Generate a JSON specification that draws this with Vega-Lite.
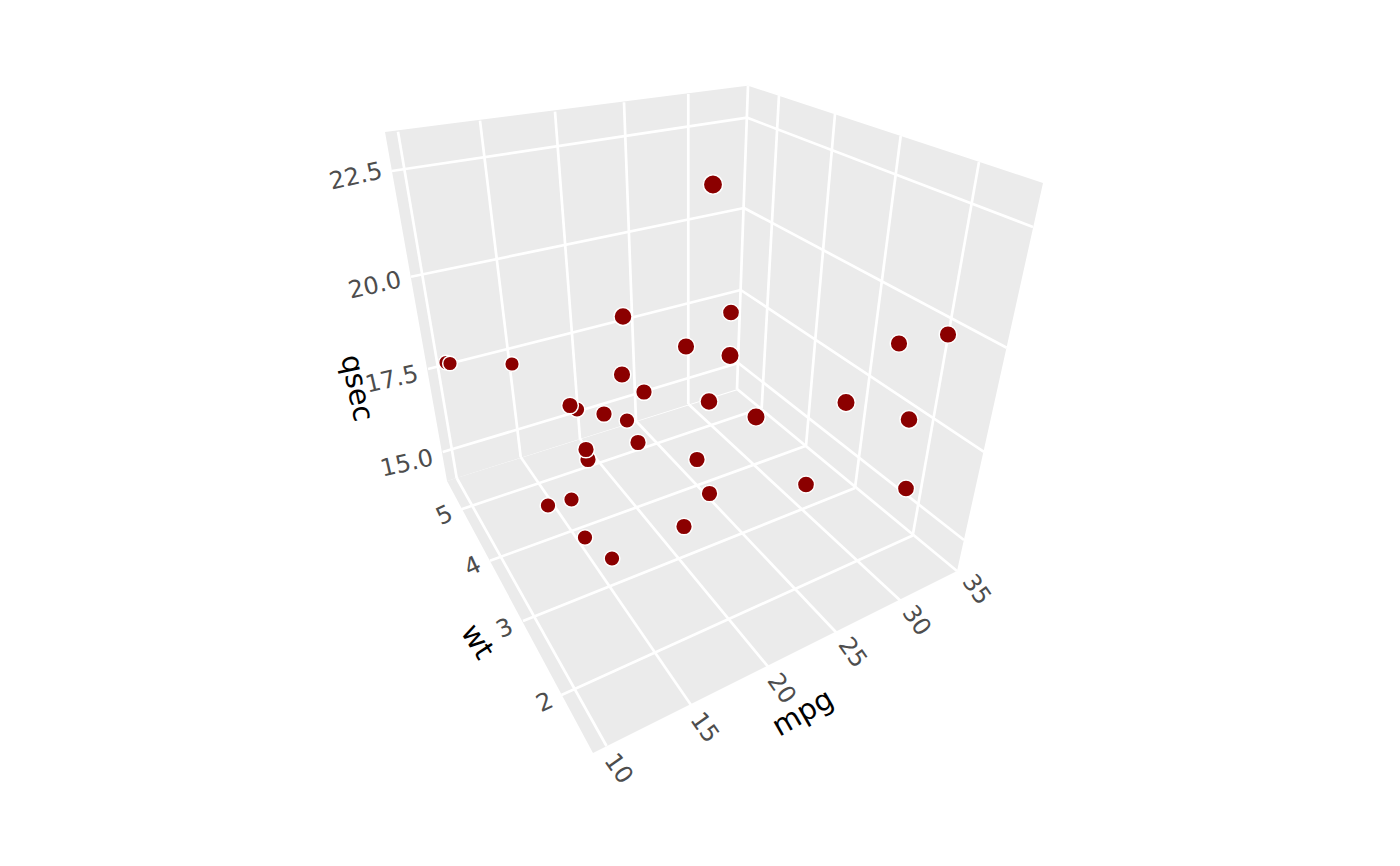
{"$schema":"https://vega.github.io/schema/vega-lite/v6.json","width":1400,"height":866,"autosize":{"type":"fit","contains":"padding"},"padding":0,"background":"white","config":{"view":{"stroke":null}},
"datasets":{
"panels":[
{"panel":"qsec-mpg wall","sx":385,"top":132,"bottom":132},{"panel":"qsec-mpg wall","sx":447,"top":124.1,"bottom":481},{"panel":"qsec-mpg wall","sx":737.5,"top":87,"bottom":389},{"panel":"qsec-mpg wall","sx":748,"top":85.7,"bottom":85.7},
{"panel":"qsec-wt wall","sx":737.5,"top":389,"bottom":389},{"panel":"qsec-wt wall","sx":748,"top":85.7,"bottom":397.7},{"panel":"qsec-wt wall","sx":957,"top":154.6,"bottom":571},{"panel":"qsec-wt wall","sx":1043,"top":183,"bottom":183},
{"panel":"floor","sx":447,"top":481,"bottom":481},{"panel":"floor","sx":593,"top":435.3,"bottom":753},{"panel":"floor","sx":738,"top":390,"bottom":680.5},{"panel":"floor","sx":957,"top":571,"bottom":571}],
"grid":[
{"line":"wall mpg 10","sx":398,"sy":131.7,"sx2":456.7,"sy2":478},{"line":"wall mpg 15","sx":480,"sy":120.7,"sx2":520.7,"sy2":457},{"line":"wall mpg 20","sx":555,"sy":111.7,"sx2":580,"sy2":439},{"line":"wall mpg 25","sx":624,"sy":102.3,"sx2":636,"sy2":421},{"line":"wall mpg 30","sx":688.3,"sy":94,"sx2":688.3,"sy2":404},{"line":"wall mpg 35","sx":748,"sy":85.7,"sx2":737,"sy2":389},
{"line":"wall wt 5","sx":779,"sy":95.3,"sx2":761.7,"sy2":408},{"line":"wall wt 4","sx":835,"sy":114,"sx2":806,"sy2":445.7},{"line":"wall wt 3","sx":900.7,"sy":136,"sx2":855,"sy2":488},{"line":"wall wt 2","sx":979,"sy":162,"sx2":912.7,"sy2":535.5},
{"line":"left qsec 22.5","sx":391.7,"sy":171,"sx2":747.3,"sy2":117.7},{"line":"left qsec 20","sx":411,"sy":276.7,"sx2":744,"sy2":208},{"line":"left qsec 17.5","sx":428,"sy":369,"sx2":740.7,"sy2":290},{"line":"left qsec 15","sx":442.7,"sy":452,"sx2":738.3,"sy2":363},
{"line":"right qsec 22.5","sx":747.3,"sy":117.7,"sx2":1033,"sy2":227},{"line":"right qsec 20","sx":744,"sy":208,"sx2":1006.7,"sy2":347.7},{"line":"right qsec 17.5","sx":740.7,"sy":290,"sx2":984,"sy2":451.8},{"line":"right qsec 15","sx":738.3,"sy":363,"sx2":964,"sy2":540},
{"line":"floor mpg 10","sx":456.7,"sy":478,"sx2":606.5,"sy2":746},{"line":"floor mpg 15","sx":520.7,"sy":457,"sx2":691,"sy2":705},{"line":"floor mpg 20","sx":580,"sy":439,"sx2":768,"sy2":666.7},{"line":"floor mpg 25","sx":636,"sy":421,"sx2":836.5,"sy2":632.7},{"line":"floor mpg 30","sx":688.3,"sy":404,"sx2":900.8,"sy2":601},{"line":"floor mpg 35","sx":737,"sy":389,"sx2":957,"sy2":571},
{"line":"floor wt 5","sx":461.5,"sy":509.3,"sx2":761.7,"sy2":408},{"line":"floor wt 4","sx":490,"sy":560.7,"sx2":806,"sy2":445.7},{"line":"floor wt 3","sx":523,"sy":621,"sx2":855,"sy2":488},{"line":"floor wt 2","sx":561.5,"sy":695,"sx2":912.7,"sy2":535.5}],
"cars":[
{"sx":713,"sy":184.5,"depth":19},{"sx":623,"sy":316.5,"depth":17.5},{"sx":731,"sy":312.5,"depth":16.5},{"sx":686,"sy":346.5,"depth":17},{"sx":730,"sy":355.5,"depth":18},{"sx":899,"sy":343.5,"depth":17},{"sx":948,"sy":334.5,"depth":17},{"sx":446,"sy":362.5,"depth":14},{"sx":450,"sy":363.5,"depth":14},{"sx":512,"sy":364,"depth":14},{"sx":622,"sy":374.5,"depth":17},{"sx":644,"sy":392,"depth":16},{"sx":709,"sy":401.5,"depth":17.5},{"sx":756,"sy":417,"depth":18},{"sx":846,"sy":402.5,"depth":18},{"sx":909,"sy":419.5,"depth":17.5},{"sx":577,"sy":409.5,"depth":15},{"sx":570,"sy":405.5,"depth":16},{"sx":604,"sy":414,"depth":16},{"sx":627,"sy":420.5,"depth":15},{"sx":638,"sy":442.5,"depth":16},{"sx":588,"sy":459.5,"depth":16},{"sx":586,"sy":449.5,"depth":16},{"sx":697,"sy":459.5,"depth":16},{"sx":709.5,"sy":493.5,"depth":16},{"sx":806,"sy":484.5,"depth":16.5},{"sx":906,"sy":488.5,"depth":16.5},{"sx":571.5,"sy":499.5,"depth":15},{"sx":548,"sy":505.5,"depth":15},{"sx":684,"sy":526.5,"depth":16},{"sx":585,"sy":537.5,"depth":15},{"sx":612,"sy":558.5,"depth":15}],
"qsecTicks":[{"label":"22.5","sx":356,"sy":177},{"label":"20.0","sx":375,"sy":286},{"label":"17.5","sx":392,"sy":380},{"label":"15.0","sx":407,"sy":464}],
"wtTicks":[{"label":"5","sx":444.6,"sy":516},{"label":"4","sx":473,"sy":567},{"label":"3","sx":505,"sy":629},{"label":"2","sx":545,"sy":703}],
"mpgTicks":[{"label":"10","sx":618,"sy":769},{"label":"15","sx":704,"sy":728},{"label":"20","sx":781,"sy":689},{"label":"25","sx":852,"sy":653},{"label":"30","sx":916,"sy":621},{"label":"35","sx":976,"sy":590}],
"qsecTitle":[{"label":"qsec","sx":356.7,"sy":388}],"wtTitle":[{"label":"wt","sx":477,"sy":641.7}],"mpgTitle":[{"label":"mpg","sx":803,"sy":713}]
},
"layer":[
{"data":{"name":"panels"},"mark":{"type":"area","fill":"#EBEBEB","interpolate":"linear"},"encoding":{"detail":{"field":"panel"},"x":{"field":"sx","type":"quantitative","axis":null,"scale":{"domain":[0,1400],"nice":false,"zero":false}},"y":{"field":"top","type":"quantitative","axis":null,"scale":{"domain":[866,0],"nice":false,"zero":false}},"y2":{"field":"bottom"}}},
{"data":{"name":"grid"},"mark":{"type":"rule","stroke":"white","strokeWidth":2.7},"encoding":{"x":{"field":"sx","type":"quantitative"},"y":{"field":"sy","type":"quantitative"},"x2":{"field":"sx2"},"y2":{"field":"sy2"}}},
{"data":{"name":"cars"},"mark":{"type":"point","filled":true,"fill":"#8B0000","fillOpacity":1,"stroke":"white","strokeOpacity":1,"strokeWidth":1.5,"opacity":1},"encoding":{"x":{"field":"sx","type":"quantitative"},"y":{"field":"sy","type":"quantitative"},"size":{"field":"depth","type":"quantitative","legend":null,"scale":{"domain":[14,19],"range":[215,375],"zero":false}}}},
{"data":{"name":"qsecTicks"},"mark":{"type":"text","font":"DejaVu Sans","fontSize":24,"fill":"#4D4D4D","angle":347,"align":"center","baseline":"middle"},"encoding":{"x":{"field":"sx","type":"quantitative"},"y":{"field":"sy","type":"quantitative"},"text":{"field":"label"}}},
{"data":{"name":"wtTicks"},"mark":{"type":"text","font":"DejaVu Sans","fontSize":24,"fill":"#4D4D4D","angle":335,"align":"center","baseline":"middle"},"encoding":{"x":{"field":"sx","type":"quantitative"},"y":{"field":"sy","type":"quantitative"},"text":{"field":"label"}}},
{"data":{"name":"mpgTicks"},"mark":{"type":"text","font":"DejaVu Sans","fontSize":24,"fill":"#4D4D4D","angle":55,"align":"center","baseline":"middle"},"encoding":{"x":{"field":"sx","type":"quantitative"},"y":{"field":"sy","type":"quantitative"},"text":{"field":"label"}}},
{"data":{"name":"qsecTitle"},"mark":{"type":"text","font":"DejaVu Sans","fontSize":29,"fill":"black","angle":78,"align":"center","baseline":"middle"},"encoding":{"x":{"field":"sx","type":"quantitative"},"y":{"field":"sy","type":"quantitative"},"text":{"field":"label"}}},
{"data":{"name":"wtTitle"},"mark":{"type":"text","font":"DejaVu Sans","fontSize":29,"fill":"black","angle":57,"align":"center","baseline":"middle"},"encoding":{"x":{"field":"sx","type":"quantitative"},"y":{"field":"sy","type":"quantitative"},"text":{"field":"label"}}},
{"data":{"name":"mpgTitle"},"mark":{"type":"text","font":"DejaVu Sans","fontSize":29,"fill":"black","angle":330,"align":"center","baseline":"middle"},"encoding":{"x":{"field":"sx","type":"quantitative"},"y":{"field":"sy","type":"quantitative"},"text":{"field":"label"}}}
]}
